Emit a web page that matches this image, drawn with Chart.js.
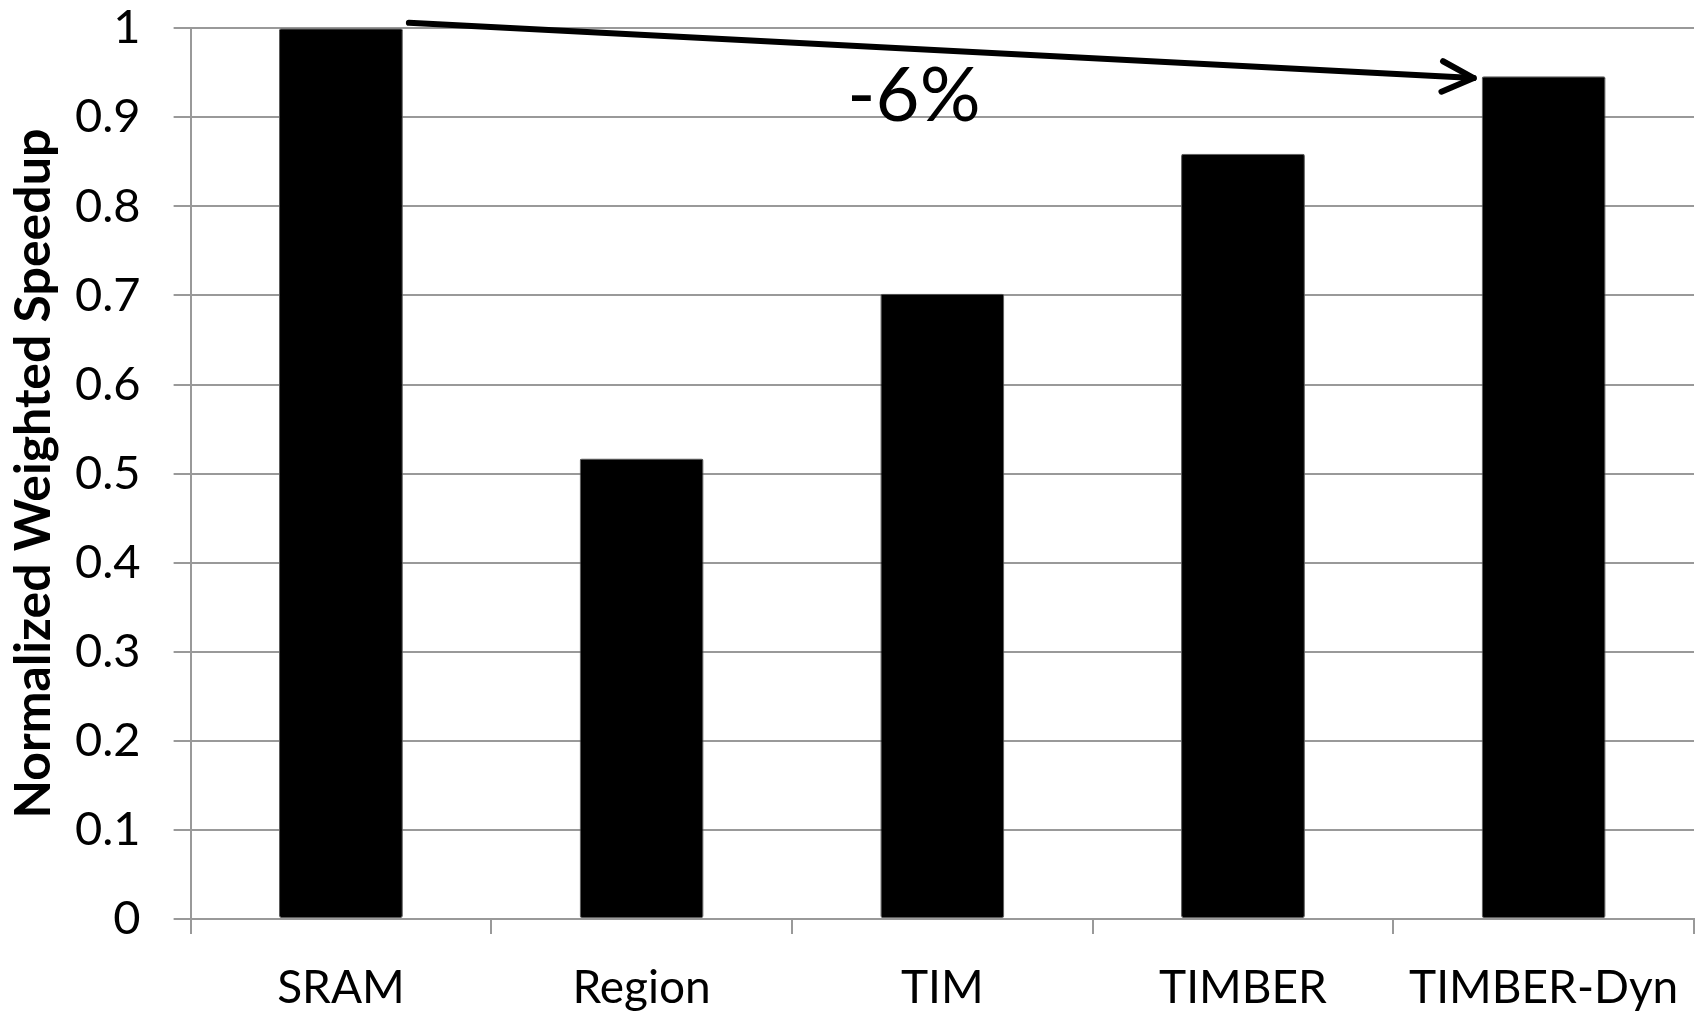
<!DOCTYPE html>
<html>
<head>
<meta charset="utf-8">
<script src="https://cdn.jsdelivr.net/npm/chart.js@4.4.1/dist/chart.umd.min.js"></script>
<style>
  html, body { margin: 0; padding: 0; background: #ffffff; }
  #wrap { width: 1700px; height: 1014px; }
</style>
</head>
<body>
<div id="wrap"><canvas id="chart" width="1700" height="1014"></canvas></div>
<script>
// Normalized weighted speedup of each memory design
const categories = ['SRAM', 'Region', 'TIM', 'TIMBER', 'TIMBER-Dyn'];
const speedup = [1.0, 0.517, 0.702, 0.859, 0.946];
const yTicks = [0, 0.1, 0.2, 0.3, 0.4, 0.5, 0.6, 0.7, 0.8, 0.9, 1];

// Arrow from the SRAM bar to the TIMBER-Dyn bar with the drop percentage
const arrowFrom = { index: 0, value: 1.006 };
const arrowTo = { index: 4, value: 0.944 };
const dropLabel = '-6%';
const dropLabelValue = 0.896;

const FONT = 'Lato, "Open Sans", "Noto Sans", sans-serif';

// Tick marks are drawn long with a dash pattern so that the visible
// stub stays short while the labels sit further out.
const X_TICK = 14, X_LABEL_GAP = 32;
const Y_TICK = 17, Y_LABEL_GAP = 33;

const arrowPlugin = {
  id: 'dropArrow',
  afterDatasetsDraw(chart) {
    const { ctx, scales } = chart;
    const x = scales.x, y = scales.y;
    const meta = chart.getDatasetMeta(0);
    const fromBar = meta.data[arrowFrom.index];
    const toBar = meta.data[arrowTo.index];
    const x0 = fromBar.x + fromBar.width / 2 + 6;
    const y0 = y.getPixelForValue(arrowFrom.value);
    const x1 = toBar.x - toBar.width / 2 - 8;
    const y1 = y.getPixelForValue(arrowTo.value);

    ctx.save();
    ctx.strokeStyle = '#000';
    ctx.lineWidth = 6;
    ctx.lineCap = 'round';
    ctx.lineJoin = 'round';
    ctx.beginPath();
    ctx.moveTo(x0, y0);
    ctx.lineTo(x1, y1);
    ctx.stroke();

    const ang = Math.atan2(y1 - y0, x1 - x0);
    const len = 35, spread = 0.45;
    ctx.beginPath();
    ctx.moveTo(x1 - len * Math.cos(ang - spread), y1 - len * Math.sin(ang - spread));
    ctx.lineTo(x1, y1);
    ctx.lineTo(x1 - len * Math.cos(ang + spread), y1 - len * Math.sin(ang + spread));
    ctx.stroke();

    const tx = (x.getPixelForValue(1) + x.getPixelForValue(2)) / 2 + 122;
    ctx.fillStyle = '#000';
    ctx.font = '76px ' + FONT;
    ctx.textAlign = 'center';
    ctx.textBaseline = 'alphabetic';
    ctx.fillText(dropLabel, tx, y.getPixelForValue(dropLabelValue));
    ctx.restore();
  }
};

new Chart(document.getElementById('chart'), {
  type: 'bar',
  data: {
    labels: categories,
    datasets: [{
      data: speedup,
      backgroundColor: '#000000',
      borderColor: '#5a5a5a',
      borderWidth: 1,
      borderRadius: 2,
      borderSkipped: false,
      categoryPercentage: 1.0,
      barPercentage: 0.412
    }]
  },
  options: {
    responsive: false,
    animation: false,
    devicePixelRatio: 1,
    layout: { padding: { top: 0, right: 6, left: 4, bottom: 3 } },
    plugins: {
      legend: { display: false },
      tooltip: { enabled: false }
    },
    scales: {
      x: {
        offset: true,
        grid: {
          offset: true,
          drawOnChartArea: false,
          drawTicks: true,
          tickLength: X_TICK + X_LABEL_GAP,
          tickBorderDash: [X_TICK, 1000],
          color: '#999999',
          lineWidth: 2
        },
        border: { display: true, color: '#999999', width: 2 },
        ticks: {
          color: '#000',
          font: { family: FONT, size: 46, lineHeight: 1 },
          padding: 0,
          maxRotation: 0,
          autoSkip: false
        }
      },
      y: {
        min: 0,
        max: 1,
        afterBuildTicks(axis) {
          axis.ticks = yTicks.map(v => ({ value: v }));
        },
        grid: {
          color: '#999999',
          lineWidth: 2,
          drawTicks: true,
          tickLength: Y_TICK + Y_LABEL_GAP,
          tickBorderDash: [0, Y_LABEL_GAP, Y_TICK, 1000]
        },
        border: { display: true, color: '#999999', width: 2 },
        ticks: {
          color: '#000',
          font: { family: FONT, size: 47, lineHeight: 1.2 },
          padding: 0,
          callback: v => String(Number(v.toFixed(1)))
        },
        title: {
          display: true,
          text: 'Normalized Weighted Speedup',
          color: '#000',
          font: { family: FONT, size: 50, weight: 'bold', lineHeight: 1.2 },
          padding: { top: 0, bottom: 11 }
        }
      }
    }
  },
  plugins: [arrowPlugin]
});
</script>
</body>
</html>
